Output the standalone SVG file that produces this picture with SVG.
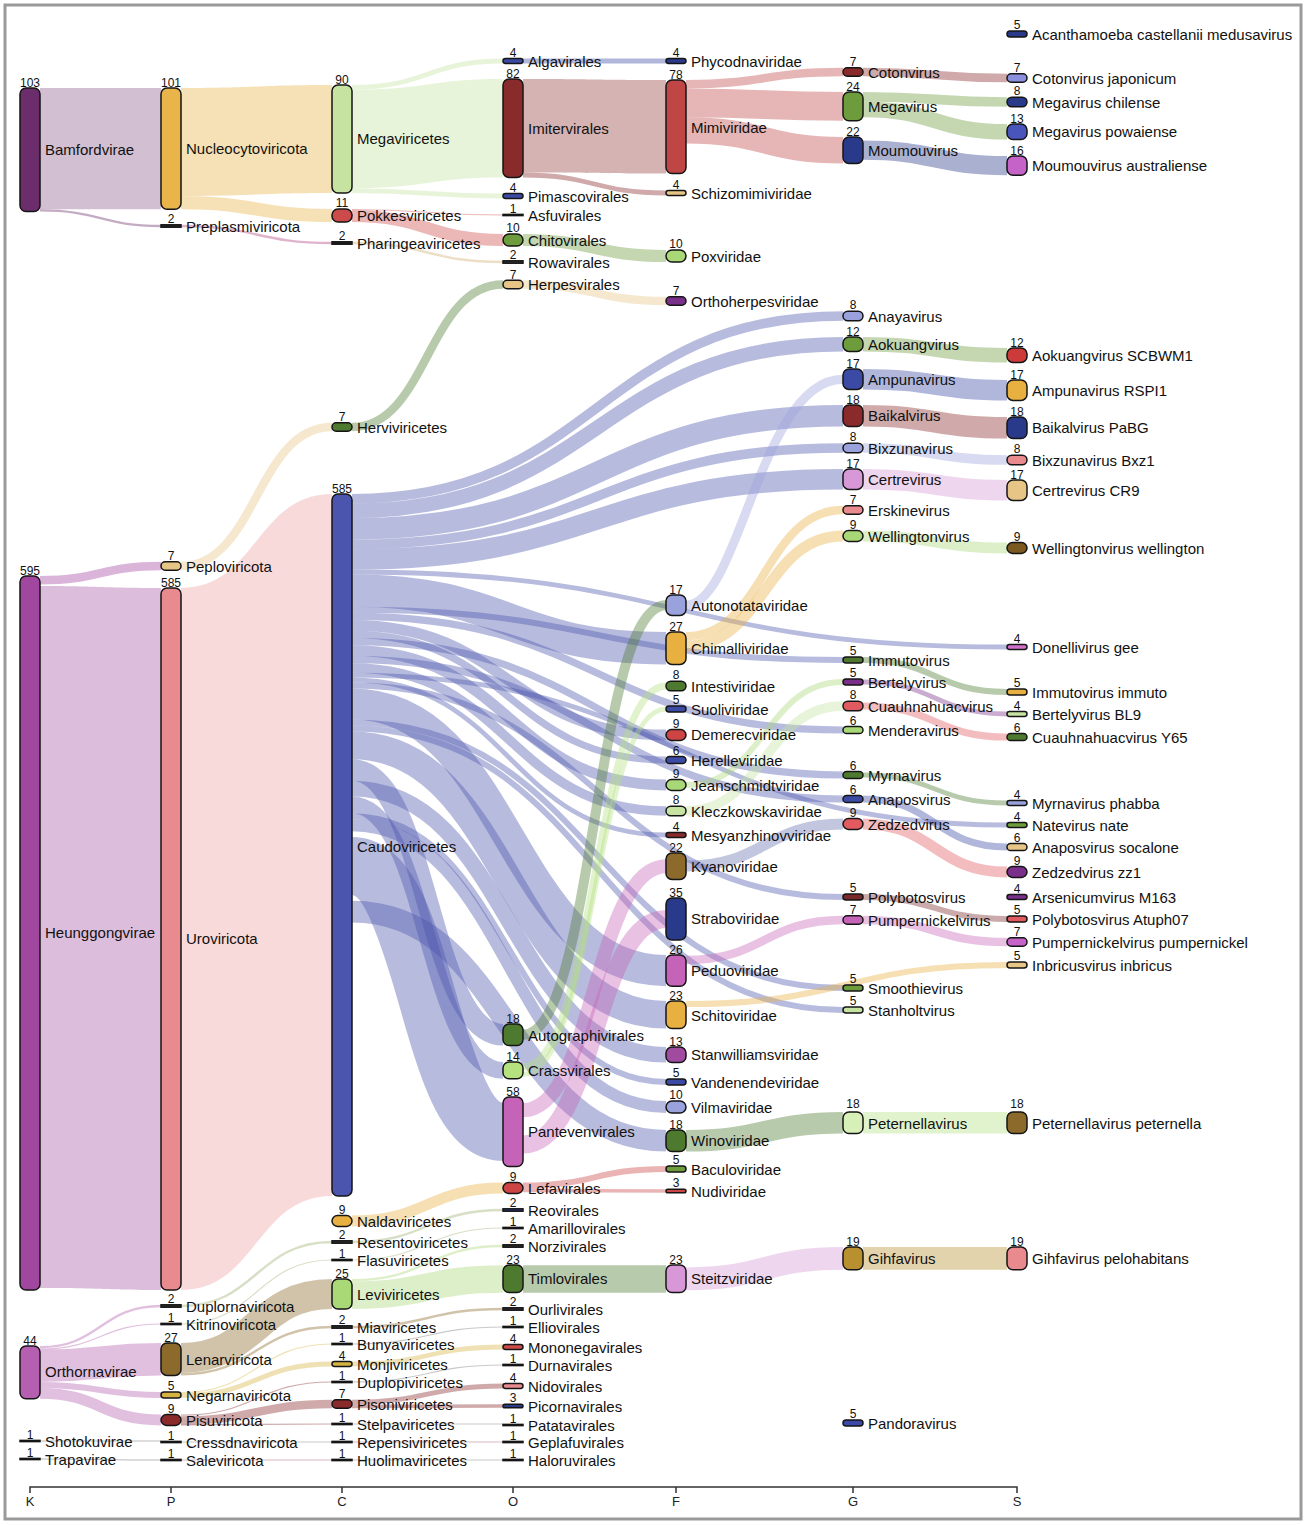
<svg xmlns="http://www.w3.org/2000/svg" width="1306" height="1525" viewBox="0 0 1306 1525">
<style>
.n{stroke:#151515;stroke-width:1.5}
.t{font-family:"Liberation Sans",Arial,sans-serif;font-size:15px;fill:#111}
.v{font-family:"Liberation Sans",Arial,sans-serif;font-size:12px;fill:#111;text-anchor:middle}
#links path{fill:none;stroke-opacity:0.4}
#links path.r{stroke:none;fill-opacity:0.4}
.ax{font-family:"Liberation Sans",Arial,sans-serif;font-size:13px;fill:#222;text-anchor:middle}
</style>
<rect x="0" y="0" width="1306" height="1525" fill="#fff"/>
<rect x="5" y="5" width="1296" height="1514" fill="none" stroke="#9a9a9a" stroke-width="3"/>
<g id="links">
<path class="r" d="M40 88 H161 V209.2 H40 Z" style="fill:#6b2d6b;fill-opacity:0.3"/>
<path d="M40 210.4 C100.5 210.4 100.5 226 161 226" stroke="#6b2d6b" stroke-width="2.4"/>
<path d="M40 580.2 C100.5 580.2 100.5 566 161 566" stroke="#a2479f" stroke-width="8.4"/>
<path class="r" d="M40 586 C100.5 586 100.5 588 161 588 V1290 C100.5 1290 100.5 1288 40 1288 Z" style="fill:#a2479f;fill-opacity:0.36"/>
<path d="M40 1347.2 C100.5 1347.2 100.5 1306 161 1306" stroke="#b45fb0" stroke-width="2.4"/>
<path d="M40 1349 C100.5 1349 100.5 1324 161 1324" stroke="#b45fb0" stroke-width="1.2"/>
<path d="M40 1365.8 C100.5 1365.8 100.5 1359.2 161 1359.2" stroke="#b45fb0" stroke-width="32.4"/>
<path d="M40 1385 C100.5 1385 100.5 1395 161 1395" stroke="#b45fb0" stroke-width="6"/>
<path d="M40 1393.4 C100.5 1393.4 100.5 1420 161 1420" stroke="#b45fb0" stroke-width="10.8"/>
<path d="M40 1441 H161" stroke="#555" stroke-width="1.2"/>
<path d="M40 1459 C100.5 1459 100.5 1460 161 1460" stroke="#555" stroke-width="1.2"/>
<path class="r" d="M181 88 C256.5 88 256.5 85 332 85 V193 C256.5 193 256.5 196 181 196 Z" style="fill:#e9b54a"/>
<path d="M181 202.6 C256.5 202.6 256.5 215.5 332 215.5" stroke="#e9b54a" stroke-width="13.2"/>
<path d="M181 226 C256.5 226 256.5 243 332 243" stroke="#b04080" stroke-width="2.4"/>
<path d="M181 566 C256.5 566 256.5 427 332 427" stroke="#e6c586" stroke-width="8.4"/>
<path class="r" d="M181 588 C256.5 588 256.5 494 332 494 V1196 C256.5 1196 256.5 1290 181 1290 Z" style="fill:#e98b8e;fill-opacity:0.32"/>
<path d="M181 1306 C256.5 1306 256.5 1242 332 1242" stroke="#9ab070" stroke-width="2.4"/>
<path d="M181 1324 C256.5 1324 256.5 1260 332 1260" stroke="#9ab070" stroke-width="1.2"/>
<path d="M181 1358 C256.5 1358 256.5 1294 332 1294" stroke="#8b6a2b" stroke-width="30"/>
<path d="M181 1374.2 C256.5 1374.2 256.5 1327 332 1327" stroke="#8b6a2b" stroke-width="2.4"/>
<path d="M181 1392.6 C256.5 1392.6 256.5 1344 332 1344" stroke="#d6b340" stroke-width="1.2"/>
<path d="M181 1395.6 C256.5 1395.6 256.5 1364 332 1364" stroke="#d6b340" stroke-width="4.8"/>
<path d="M181 1415.2 C256.5 1415.2 256.5 1382 332 1382" stroke="#8a2a2a" stroke-width="1.2"/>
<path d="M181 1420.4 C256.5 1420.4 256.5 1404 332 1404" stroke="#8a2a2a" stroke-width="8.4"/>
<path d="M181 1424.8 C256.5 1424.8 256.5 1424 332 1424" stroke="#8a2a2a" stroke-width="1.2"/>
<path d="M181 1442 H332" stroke="#777" stroke-width="1.2"/>
<path d="M181 1460 H332" stroke="#a05060" stroke-width="1.2"/>
<path d="M352 87.4 C427.5 87.4 427.5 61 503 61" stroke="#c6e3a2" stroke-width="4.8"/>
<path class="r" d="M352 89.8 C427.5 89.8 427.5 79 503 79 V177.4 C427.5 177.4 427.5 188.2 352 188.2 Z" style="fill:#c6e3a2"/>
<path d="M352 190.6 C427.5 190.6 427.5 196 503 196" stroke="#c6e3a2" stroke-width="4.8"/>
<path d="M352 209.5 C427.5 209.5 427.5 215 503 215" stroke="#cc4a4a" stroke-width="1.2"/>
<path d="M352 216.1 C427.5 216.1 427.5 240 503 240" stroke="#cc4a4a" stroke-width="12"/>
<path d="M352 243 C427.5 243 427.5 262 503 262" stroke="#d0b070" stroke-width="2.4"/>
<path d="M352 427 C427.5 427 427.5 284.5 503 284.5" stroke="#4d7a2f" stroke-width="8.4"/>
<path d="M352 1221 C427.5 1221 427.5 1188 503 1188" stroke="#e8b040" stroke-width="10.8"/>
<path d="M352 1242 C427.5 1242 427.5 1210 503 1210" stroke="#9ab070" stroke-width="2.4"/>
<path d="M352 1260 C427.5 1260 427.5 1228 503 1228" stroke="#9ab070" stroke-width="1.2"/>
<path d="M352 1280.2 C427.5 1280.2 427.5 1246 503 1246" stroke="#a9d877" stroke-width="2.4"/>
<path d="M352 1295.2 C427.5 1295.2 427.5 1279 503 1279" stroke="#a9d877" stroke-width="27.6"/>
<path d="M352 1327 C427.5 1327 427.5 1309 503 1309" stroke="#8b6a2b" stroke-width="2.4"/>
<path d="M352 1344 C427.5 1344 427.5 1327 503 1327" stroke="#777" stroke-width="1.2"/>
<path d="M352 1364 C427.5 1364 427.5 1347 503 1347" stroke="#d6b340" stroke-width="4.8"/>
<path d="M352 1382 C427.5 1382 427.5 1365 503 1365" stroke="#777" stroke-width="1.2"/>
<path d="M352 1402.2 C427.5 1402.2 427.5 1386 503 1386" stroke="#8a2a2a" stroke-width="4.8"/>
<path d="M352 1406.4 C427.5 1406.4 427.5 1406 503 1406" stroke="#8a2a2a" stroke-width="3.6"/>
<path d="M352 1424 H503" stroke="#777" stroke-width="1.2"/>
<path d="M352 1442 H503" stroke="#a05060" stroke-width="1.2"/>
<path d="M352 1460 H503" stroke="#777" stroke-width="1.2"/>
<path d="M352 498.8 C597.5 498.8 597.5 316 843 316" stroke="#4b55ad" stroke-width="9.6"/>
<path d="M352 510.8 C597.5 510.8 597.5 344.2 843 344.2" stroke="#4b55ad" stroke-width="14.4"/>
<path d="M352 528.8 C597.5 528.8 597.5 415.8 843 415.8" stroke="#4b55ad" stroke-width="21.6"/>
<path d="M352 544.4 C597.5 544.4 597.5 448 843 448" stroke="#4b55ad" stroke-width="9.6"/>
<path d="M352 559.4 C597.5 559.4 597.5 479.2 843 479.2" stroke="#4b55ad" stroke-width="20.4"/>
<path d="M352 572 C679.5 572 679.5 647 1007 647" stroke="#4b55ad" stroke-width="4.8"/>
<path d="M352 590.6 C509 590.6 509 648.2 666 648.2" stroke="#4b55ad" stroke-width="32.4"/>
<path d="M352 609.8 C597.5 609.8 597.5 660 843 660" stroke="#4b55ad" stroke-width="6"/>
<path d="M352 616.4 C597.5 616.4 597.5 730 843 730" stroke="#4b55ad" stroke-width="7.2"/>
<path d="M352 625.4 C509 625.4 509 735 666 735" stroke="#4b55ad" stroke-width="10.8"/>
<path d="M352 634.4 C509 634.4 509 760 666 760" stroke="#4b55ad" stroke-width="7.2"/>
<path d="M352 641.6 C597.5 641.6 597.5 775 843 775" stroke="#4b55ad" stroke-width="7.2"/>
<path d="M352 650.6 C509 650.6 509 785 666 785" stroke="#4b55ad" stroke-width="10.8"/>
<path d="M352 659.6 C597.5 659.6 597.5 799 843 799" stroke="#4b55ad" stroke-width="7.2"/>
<path d="M352 668 C509 668 509 811 666 811" stroke="#4b55ad" stroke-width="9.6"/>
<path d="M352 675.2 C679.5 675.2 679.5 825 1007 825" stroke="#4b55ad" stroke-width="4.8"/>
<path d="M352 680 C509 680 509 835 666 835" stroke="#4b55ad" stroke-width="4.8"/>
<path d="M352 685.4 C597.5 685.4 597.5 897 843 897" stroke="#4b55ad" stroke-width="6"/>
<path d="M352 704 C509 704 509 970.6 666 970.6" stroke="#4b55ad" stroke-width="31.2"/>
<path d="M352 722.6 C597.5 722.6 597.5 988 843 988" stroke="#4b55ad" stroke-width="6"/>
<path d="M352 728.6 C597.5 728.6 597.5 1010 843 1010" stroke="#4b55ad" stroke-width="6"/>
<path d="M352 745.4 C509 745.4 509 1014.8 666 1014.8" stroke="#4b55ad" stroke-width="27.6"/>
<path d="M352 770 C427.5 770 427.5 1034.8 503 1034.8" stroke="#4b55ad" stroke-width="21.6"/>
<path d="M352 788.6 C509 788.6 509 1054.8 666 1054.8" stroke="#4b55ad" stroke-width="15.6"/>
<path d="M352 804.8 C427.5 804.8 427.5 1070.4 503 1070.4" stroke="#4b55ad" stroke-width="16.8"/>
<path d="M352 816.2 C509 816.2 509 1082 666 1082" stroke="#4b55ad" stroke-width="6"/>
<path d="M352 825.2 C509 825.2 509 1107 666 1107" stroke="#4b55ad" stroke-width="12"/>
<path d="M352 866 C427.5 866 427.5 1131.8 503 1131.8" stroke="#4b55ad" stroke-width="58"/>
<path d="M352 911.6 C509 911.6 509 1140.8 666 1140.8" stroke="#4b55ad" stroke-width="21.6"/>
<path d="M523 61 H666" stroke="#3b4ba5" stroke-width="4.8"/>
<path class="r" d="M523 79 C594.5 79 594.5 80 666 80 V173.6 C594.5 173.6 594.5 172.6 523 172.6 Z" style="fill:#8a2b2b;fill-opacity:0.36"/>
<path d="M523 175 C594.5 175 594.5 193 666 193" stroke="#8a2b2b" stroke-width="4.8"/>
<path d="M523 240 C594.5 240 594.5 256 666 256" stroke="#6c9c3c" stroke-width="12"/>
<path d="M523 284.5 C594.5 284.5 594.5 301 666 301" stroke="#e6c586" stroke-width="8.4"/>
<path d="M523 1034.8 C594.5 1034.8 594.5 605.2 666 605.2" stroke="#4d7a2f" stroke-width="10"/>
<path d="M523 1066.8 C594.5 1066.8 594.5 686 666 686" stroke="#b5e27f" stroke-width="7"/>
<path d="M523 1074.6 C594.5 1074.6 594.5 709 666 709" stroke="#b5e27f" stroke-width="5"/>
<path d="M523 1110.2 C594.5 1110.2 594.5 866.2 666 866.2" stroke="#c563b8" stroke-width="14"/>
<path d="M523 1144.4 C594.5 1144.4 594.5 919 666 919" stroke="#c563b8" stroke-width="18"/>
<path d="M523 1185.6 C594.5 1185.6 594.5 1169 666 1169" stroke="#cc4444" stroke-width="6"/>
<path d="M523 1190.4 C594.5 1190.4 594.5 1191 666 1191" stroke="#cc4444" stroke-width="3.6"/>
<path d="M523 1279 H666" stroke="#4d7a2f" stroke-width="27.6"/>
<path d="M686 84.2 C764.5 84.2 764.5 72 843 72" stroke="#c04545" stroke-width="8.4"/>
<path d="M686 102.8 C764.5 102.8 764.5 106.4 843 106.4" stroke="#c04545" stroke-width="28.8"/>
<path d="M686 130.4 C764.5 130.4 764.5 150.2 843 150.2" stroke="#c04545" stroke-width="26.4"/>
<path d="M686 605.2 C740 605.2 760 379.2 843 379.2" stroke="#9aa2dd" stroke-width="9"/>
<path d="M686 636.2 C764.5 636.2 764.5 510 843 510" stroke="#e8b040" stroke-width="8.4"/>
<path d="M686 645.8 C764.5 645.8 764.5 536 843 536" stroke="#e8b040" stroke-width="10.8"/>
<path d="M686 785 C764.5 785 764.5 682 843 682" stroke="#a9d877" stroke-width="6"/>
<path d="M686 811 C764.5 811 764.5 706 843 706" stroke="#c6e3a2" stroke-width="9.6"/>
<path d="M686 866 C764.5 866 764.5 824 843 824" stroke="#6a70b0" stroke-width="10.8"/>
<path d="M686 960 C764.5 960 764.5 920 843 920" stroke="#c563b8" stroke-width="8.4"/>
<path d="M686 1004 C846.5 1004 846.5 965 1007 965" stroke="#e8b040" stroke-width="6"/>
<path d="M686 1140.8 C764.5 1140.8 764.5 1122.8 843 1122.8" stroke="#4d7a2f" stroke-width="21.6"/>
<path d="M686 1278.8 C764.5 1278.8 764.5 1258.4 843 1258.4" stroke="#d898d8" stroke-width="22.8"/>
<path d="M863 72 C935 72 935 78 1007 78" stroke="#8a2a2a" stroke-width="8.4"/>
<path d="M863 96.8 C935 96.8 935 102 1007 102" stroke="#6c9c3c" stroke-width="9.6"/>
<path d="M863 109.4 C935 109.4 935 131.8 1007 131.8" stroke="#6c9c3c" stroke-width="15.6"/>
<path d="M863 150.2 C935 150.2 935 165.6 1007 165.6" stroke="#2a3a8a" stroke-width="19.2"/>
<path d="M863 344.2 C935 344.2 935 355.2 1007 355.2" stroke="#6c9c3c" stroke-width="14.4"/>
<path d="M863 379.2 C935 379.2 935 390.2 1007 390.2" stroke="#3b4ba5" stroke-width="20.4"/>
<path d="M863 415.8 C935 415.8 935 427.8 1007 427.8" stroke="#8a2a2a" stroke-width="21.6"/>
<path d="M863 448 C935 448 935 460 1007 460" stroke="#9aa2dd" stroke-width="9.6"/>
<path d="M863 479.2 C935 479.2 935 490.2 1007 490.2" stroke="#d898d8" stroke-width="20.4"/>
<path d="M863 536 C935 536 935 548 1007 548" stroke="#a9d877" stroke-width="10.8"/>
<path d="M863 660 C935 660 935 692 1007 692" stroke="#4d7a2f" stroke-width="6"/>
<path d="M863 682 C935 682 935 714 1007 714" stroke="#7a2f8a" stroke-width="4.8"/>
<path d="M863 706 C935 706 935 737 1007 737" stroke="#e05a60" stroke-width="7.2"/>
<path d="M863 775 C935 775 935 803 1007 803" stroke="#4d7a2f" stroke-width="4.8"/>
<path d="M863 799 C935 799 935 847 1007 847" stroke="#3b4ba5" stroke-width="7.2"/>
<path d="M863 824 C935 824 935 872 1007 872" stroke="#e05a60" stroke-width="10.8"/>
<path d="M863 897 C935 897 935 919 1007 919" stroke="#7a2a2a" stroke-width="6"/>
<path d="M863 920 C935 920 935 942 1007 942" stroke="#c563b8" stroke-width="8.4"/>
<path d="M863 1122.8 H1007" stroke="#b5e27f" stroke-width="21.6"/>
<path d="M863 1258.4 H1007" stroke="#b89030" stroke-width="22.8"/>
</g>
<g id="nodes">
<g id="n-bamfordvirae"><rect class="n" x="20" y="88" width="20" height="123.6" rx="6" fill="#6b2d6b"/><text class="v" x="30" y="86.5">103</text><text class="t" x="45" y="155">Bamfordvirae</text></g>
<g id="n-heunggongvirae"><rect class="n" x="20" y="576" width="20" height="714" rx="6" fill="#a2479f"/><text class="v" x="30" y="574.5">595</text><text class="t" x="45" y="938">Heunggongvirae</text></g>
<g id="n-orthornavirae"><rect class="n" x="20" y="1346" width="20" height="52.8" rx="6" fill="#b45fb0"/><text class="v" x="30" y="1344.5">44</text><text class="t" x="45" y="1377">Orthornavirae</text></g>
<g id="n-shotokuvirae"><rect class="n" x="20" y="1440.4" width="20" height="1.2" fill="#222"/><text class="v" x="30" y="1438.5">1</text><text class="t" x="45" y="1446.5">Shotokuvirae</text></g>
<g id="n-trapavirae"><rect class="n" x="20" y="1458.4" width="20" height="1.2" fill="#222"/><text class="v" x="30" y="1456.5">1</text><text class="t" x="45" y="1464.5">Trapavirae</text></g>

<g id="n-nucleocytoviricota"><rect class="n" x="161" y="88" width="20" height="121.2" rx="6" fill="#e9b54a"/><text class="v" x="171" y="86.5">101</text><text class="t" x="186" y="153.6">Nucleocytoviricota</text></g>
<g id="n-preplasmiviricota"><rect class="n" x="161" y="224.8" width="20" height="2.4" fill="#2a2a2a"/><text class="v" x="171" y="222.5">2</text><text class="t" x="186" y="231.5">Preplasmiviricota</text></g>
<g id="n-peploviricota"><rect class="n" x="161" y="561.8" width="20" height="8.4" rx="4.2" fill="#e6c586"/><text class="v" x="171" y="560">7</text><text class="t" x="186" y="571.5">Peploviricota</text></g>
<g id="n-uroviricota"><rect class="n" x="161" y="588" width="20" height="702" rx="6" fill="#e98b8e"/><text class="v" x="171" y="586.5">585</text><text class="t" x="186" y="944">Uroviricota</text></g>
<g id="n-duplornaviricota"><rect class="n" x="161" y="1304.8" width="20" height="2.4" fill="#2e3a22"/><text class="v" x="171" y="1302.5">2</text><text class="t" x="186" y="1311.5">Duplornaviricota</text></g>
<g id="n-kitrinoviricota"><rect class="n" x="161" y="1323.4" width="20" height="1.2" fill="#333"/><text class="v" x="171" y="1321.5">1</text><text class="t" x="186" y="1329.5">Kitrinoviricota</text></g>
<g id="n-lenarviricota"><rect class="n" x="161" y="1343" width="20" height="32.4" rx="6" fill="#8b6a2b"/><text class="v" x="171" y="1341.5">27</text><text class="t" x="186" y="1364.5">Lenarviricota</text></g>
<g id="n-negarnaviricota"><rect class="n" x="161" y="1392" width="20" height="6" rx="3" fill="#d6b340"/><text class="v" x="171" y="1390">5</text><text class="t" x="186" y="1400.5">Negarnaviricota</text></g>
<g id="n-pisuviricota"><rect class="n" x="161" y="1414.6" width="20" height="10.8" rx="5.4" fill="#8a2a2a"/><text class="v" x="171" y="1412.8">9</text><text class="t" x="186" y="1425.5">Pisuviricota</text></g>
<g id="n-cressdnaviricota"><rect class="n" x="161" y="1441.4" width="20" height="1.2" fill="#333"/><text class="v" x="171" y="1439.5">1</text><text class="t" x="186" y="1447.5">Cressdnaviricota</text></g>
<g id="n-saleviricota"><rect class="n" x="161" y="1459.4" width="20" height="1.2" fill="#6a2a2a"/><text class="v" x="171" y="1457.5">1</text><text class="t" x="186" y="1465.5">Saleviricota</text></g>

<g id="n-megaviricetes"><rect class="n" x="332" y="85" width="20" height="108" rx="6" fill="#c6e3a2"/><text class="v" x="342" y="83.5">90</text><text class="t" x="357" y="144">Megaviricetes</text></g>
<g id="n-pokkesviricetes"><rect class="n" x="332" y="208.9" width="20" height="13.2" rx="6" fill="#cc4a4a"/><text class="v" x="342" y="207">11</text><text class="t" x="357" y="220.5">Pokkesviricetes</text></g>
<g id="n-pharingeaviricetes"><rect class="n" x="332" y="241.8" width="20" height="2.4" fill="#222"/><text class="v" x="342" y="239.5">2</text><text class="t" x="357" y="248.5">Pharingeaviricetes</text></g>
<g id="n-herviviricetes"><rect class="n" x="332" y="422.8" width="20" height="8.4" rx="4.2" fill="#4d7a2f"/><text class="v" x="342" y="421">7</text><text class="t" x="357" y="432.5">Herviviricetes</text></g>
<g id="n-caudoviricetes"><rect class="n" x="332" y="494" width="20" height="702" rx="6" fill="#4b55ad"/><text class="v" x="342" y="492.5">585</text><text class="t" x="357" y="852">Caudoviricetes</text></g>
<g id="n-naldaviricetes"><rect class="n" x="332" y="1215.6" width="20" height="10.8" rx="5.4" fill="#e8b040"/><text class="v" x="342" y="1213.8">9</text><text class="t" x="357" y="1226.5">Naldaviricetes</text></g>
<g id="n-resentoviricetes"><rect class="n" x="332" y="1240.8" width="20" height="2.4" fill="#333"/><text class="v" x="342" y="1238.5">2</text><text class="t" x="357" y="1247.5">Resentoviricetes</text></g>
<g id="n-flasuviricetes"><rect class="n" x="332" y="1259.4" width="20" height="1.2" fill="#333"/><text class="v" x="342" y="1257.5">1</text><text class="t" x="357" y="1265.5">Flasuviricetes</text></g>
<g id="n-leviviricetes"><rect class="n" x="332" y="1279" width="20" height="30" rx="6" fill="#a9d877"/><text class="v" x="342" y="1277.5">25</text><text class="t" x="357" y="1299.5">Leviviricetes</text></g>
<g id="n-miaviricetes"><rect class="n" x="332" y="1325.8" width="20" height="2.4" fill="#333"/><text class="v" x="342" y="1323.5">2</text><text class="t" x="357" y="1332.5">Miaviricetes</text></g>
<g id="n-bunyaviricetes"><rect class="n" x="332" y="1343.4" width="20" height="1.2" fill="#333"/><text class="v" x="342" y="1341.5">1</text><text class="t" x="357" y="1349.5">Bunyaviricetes</text></g>
<g id="n-monjiviricetes"><rect class="n" x="332" y="1361.6" width="20" height="4.8" rx="2.4" fill="#d6b340"/><text class="v" x="342" y="1359.8">4</text><text class="t" x="357" y="1369.5">Monjiviricetes</text></g>
<g id="n-duplopiviricetes"><rect class="n" x="332" y="1381.4" width="20" height="1.2" fill="#333"/><text class="v" x="342" y="1379.5">1</text><text class="t" x="357" y="1387.5">Duplopiviricetes</text></g>
<g id="n-pisoniviricetes"><rect class="n" x="332" y="1399.8" width="20" height="8.4" rx="4.2" fill="#8a2a2a"/><text class="v" x="342" y="1398">7</text><text class="t" x="357" y="1409.5">Pisoniviricetes</text></g>
<g id="n-stelpaviricetes"><rect class="n" x="332" y="1423.4" width="20" height="1.2" fill="#333"/><text class="v" x="342" y="1421.5">1</text><text class="t" x="357" y="1429.5">Stelpaviricetes</text></g>
<g id="n-repensiviricetes"><rect class="n" x="332" y="1441.4" width="20" height="1.2" fill="#6a2a2a"/><text class="v" x="342" y="1439.5">1</text><text class="t" x="357" y="1447.5">Repensiviricetes</text></g>
<g id="n-huolimaviricetes"><rect class="n" x="332" y="1459.4" width="20" height="1.2" fill="#333"/><text class="v" x="342" y="1457.5">1</text><text class="t" x="357" y="1465.5">Huolimaviricetes</text></g>

<g id="n-algavirales"><rect class="n" x="503" y="58.6" width="20" height="4.8" rx="2.4" fill="#3b4ba5"/><text class="v" x="513" y="56.8">4</text><text class="t" x="528" y="66.5">Algavirales</text></g>
<g id="n-imitervirales"><rect class="n" x="503" y="79" width="20" height="98.4" rx="6" fill="#8a2b2b"/><text class="v" x="513" y="77.5">82</text><text class="t" x="528" y="133.5">Imitervirales</text></g>
<g id="n-pimascovirales"><rect class="n" x="503" y="193.6" width="20" height="4.8" rx="2.4" fill="#3b4ba5"/><text class="v" x="513" y="191.8">4</text><text class="t" x="528" y="201.5">Pimascovirales</text></g>
<g id="n-asfuvirales"><rect class="n" x="503" y="214.4" width="20" height="1.2" fill="#333"/><text class="v" x="513" y="212.5">1</text><text class="t" x="528" y="220.5">Asfuvirales</text></g>
<g id="n-chitovirales"><rect class="n" x="503" y="234" width="20" height="12" rx="6" fill="#6c9c3c"/><text class="v" x="513" y="232.3">10</text><text class="t" x="528" y="245.5">Chitovirales</text></g>
<g id="n-rowavirales"><rect class="n" x="503" y="260.8" width="20" height="2.4" fill="#333"/><text class="v" x="513" y="258.5">2</text><text class="t" x="528" y="267.5">Rowavirales</text></g>
<g id="n-herpesvirales"><rect class="n" x="503" y="280.3" width="20" height="8.4" rx="4.2" fill="#e6c586"/><text class="v" x="513" y="278.5">7</text><text class="t" x="528" y="290">Herpesvirales</text></g>
<g id="n-autographivirales"><rect class="n" x="503" y="1024" width="20" height="21.6" rx="6" fill="#4d7a2f"/><text class="v" x="513" y="1022.5">18</text><text class="t" x="528" y="1040.5">Autographivirales</text></g>
<g id="n-crassvirales"><rect class="n" x="503" y="1062" width="20" height="16.8" rx="6" fill="#b5e27f"/><text class="v" x="513" y="1060.5">14</text><text class="t" x="528" y="1075.5">Crassvirales</text></g>
<g id="n-pantevenvirales"><rect class="n" x="503" y="1097" width="20" height="69.6" rx="6" fill="#c563b8"/><text class="v" x="513" y="1095.5">58</text><text class="t" x="528" y="1137">Pantevenvirales</text></g>
<g id="n-lefavirales"><rect class="n" x="503" y="1182.6" width="20" height="10.8" rx="5.4" fill="#cc4444"/><text class="v" x="513" y="1180.8">9</text><text class="t" x="528" y="1193.5">Lefavirales</text></g>
<g id="n-reovirales"><rect class="n" x="503" y="1208.8" width="20" height="2.4" fill="#2a3a7a"/><text class="v" x="513" y="1206.5">2</text><text class="t" x="528" y="1215.5">Reovirales</text></g>
<g id="n-amarillovirales"><rect class="n" x="503" y="1227.4" width="20" height="1.2" fill="#333"/><text class="v" x="513" y="1225.5">1</text><text class="t" x="528" y="1233.5">Amarillovirales</text></g>
<g id="n-norzivirales"><rect class="n" x="503" y="1244.8" width="20" height="2.4" fill="#333"/><text class="v" x="513" y="1242.5">2</text><text class="t" x="528" y="1251.5">Norzivirales</text></g>
<g id="n-timlovirales"><rect class="n" x="503" y="1265" width="20" height="27.6" rx="6" fill="#4d7a2f"/><text class="v" x="513" y="1263.5">23</text><text class="t" x="528" y="1284">Timlovirales</text></g>
<g id="n-ourlivirales"><rect class="n" x="503" y="1307.8" width="20" height="2.4" fill="#3a2a3a"/><text class="v" x="513" y="1305.5">2</text><text class="t" x="528" y="1314.5">Ourlivirales</text></g>
<g id="n-elliovirales"><rect class="n" x="503" y="1326.4" width="20" height="1.2" fill="#333"/><text class="v" x="513" y="1324.5">1</text><text class="t" x="528" y="1332.5">Elliovirales</text></g>
<g id="n-mononegavirales"><rect class="n" x="503" y="1344.6" width="20" height="4.8" rx="2.4" fill="#cc4a4a"/><text class="v" x="513" y="1342.8">4</text><text class="t" x="528" y="1352.5">Mononegavirales</text></g>
<g id="n-durnavirales"><rect class="n" x="503" y="1364.4" width="20" height="1.2" fill="#333"/><text class="v" x="513" y="1362.5">1</text><text class="t" x="528" y="1370.5">Durnavirales</text></g>
<g id="n-nidovirales"><rect class="n" x="503" y="1383.6" width="20" height="4.8" rx="2.4" fill="#e88a8e"/><text class="v" x="513" y="1381.8">4</text><text class="t" x="528" y="1391.5">Nidovirales</text></g>
<g id="n-picornavirales"><rect class="n" x="503" y="1404.2" width="20" height="3.6" rx="1.8" fill="#2a3a8a"/><text class="v" x="513" y="1402.3">3</text><text class="t" x="528" y="1411.5">Picornavirales</text></g>
<g id="n-patatavirales"><rect class="n" x="503" y="1424.4" width="20" height="1.2" fill="#333"/><text class="v" x="513" y="1422.5">1</text><text class="t" x="528" y="1430.5">Patatavirales</text></g>
<g id="n-geplafuvirales"><rect class="n" x="503" y="1441.4" width="20" height="1.2" fill="#333"/><text class="v" x="513" y="1439.5">1</text><text class="t" x="528" y="1447.5">Geplafuvirales</text></g>
<g id="n-haloruvirales"><rect class="n" x="503" y="1459.4" width="20" height="1.2" fill="#333"/><text class="v" x="513" y="1457.5">1</text><text class="t" x="528" y="1465.5">Haloruvirales</text></g>

<g id="n-phycodnaviridae"><rect class="n" x="666" y="58.6" width="20" height="4.8" rx="2.4" fill="#2a3a8a"/><text class="v" x="676" y="56.8">4</text><text class="t" x="691" y="66.5">Phycodnaviridae</text></g>
<g id="n-mimiviridae"><rect class="n" x="666" y="80" width="20" height="93.6" rx="6" fill="#c04545"/><text class="v" x="676" y="78.5">78</text><text class="t" x="691" y="132.5">Mimiviridae</text></g>
<g id="n-schizomimiviridae"><rect class="n" x="666" y="190.6" width="20" height="4.8" rx="2.4" fill="#e6c586"/><text class="v" x="676" y="188.8">4</text><text class="t" x="691" y="198.5">Schizomimiviridae</text></g>
<g id="n-poxviridae"><rect class="n" x="666" y="250" width="20" height="12" rx="6" fill="#a9d877"/><text class="v" x="676" y="248.3">10</text><text class="t" x="691" y="261.5">Poxviridae</text></g>
<g id="n-orthoherpesviridae"><rect class="n" x="666" y="296.8" width="20" height="8.4" rx="4.2" fill="#7a2f8a"/><text class="v" x="676" y="295">7</text><text class="t" x="691" y="306.5">Orthoherpesviridae</text></g>
<g id="n-autonotataviridae"><rect class="n" x="666" y="595" width="20" height="20.4" rx="6" fill="#9aa2dd"/><text class="v" x="676" y="593.5">17</text><text class="t" x="691" y="610.5">Autonotataviridae</text></g>
<g id="n-chimalliviridae"><rect class="n" x="666" y="632" width="20" height="32.4" rx="6" fill="#e8b040"/><text class="v" x="676" y="630.5">27</text><text class="t" x="691" y="653.5">Chimalliviridae</text></g>
<g id="n-intestiviridae"><rect class="n" x="666" y="681.2" width="20" height="9.6" rx="4.8" fill="#4d7a2f"/><text class="v" x="676" y="679.4">8</text><text class="t" x="691" y="691.5">Intestiviridae</text></g>
<g id="n-suoliviridae"><rect class="n" x="666" y="706" width="20" height="6" rx="3" fill="#3b4ba5"/><text class="v" x="676" y="704.2">5</text><text class="t" x="691" y="714.5">Suoliviridae</text></g>
<g id="n-demerecviridae"><rect class="n" x="666" y="729.6" width="20" height="10.8" rx="5.4" fill="#cc4444"/><text class="v" x="676" y="727.8">9</text><text class="t" x="691" y="740">Demerecviridae</text></g>
<g id="n-herelleviridae"><rect class="n" x="666" y="756.4" width="20" height="7.2" rx="3.6" fill="#3b4ba5"/><text class="v" x="676" y="754.6">6</text><text class="t" x="691" y="765.5">Herelleviridae</text></g>
<g id="n-jeanschmidtviridae"><rect class="n" x="666" y="779.6" width="20" height="10.8" rx="5.4" fill="#a9d877"/><text class="v" x="676" y="777.8">9</text><text class="t" x="691" y="790.5">Jeanschmidtviridae</text></g>
<g id="n-kleczkowskaviridae"><rect class="n" x="666" y="806.2" width="20" height="9.6" rx="4.8" fill="#c6e3a2"/><text class="v" x="676" y="804.4">8</text><text class="t" x="691" y="816.5">Kleczkowskaviridae</text></g>
<g id="n-mesyanzhinovviridae"><rect class="n" x="666" y="832.6" width="20" height="4.8" rx="2.4" fill="#8a2a2a"/><text class="v" x="676" y="830.8">4</text><text class="t" x="691" y="840.5">Mesyanzhinovviridae</text></g>
<g id="n-kyanoviridae"><rect class="n" x="666" y="853" width="20" height="26.4" rx="6" fill="#8b6a2b"/><text class="v" x="676" y="851.5">22</text><text class="t" x="691" y="871.5">Kyanoviridae</text></g>
<g id="n-straboviridae"><rect class="n" x="666" y="898" width="20" height="42" rx="6" fill="#2a3a8a"/><text class="v" x="676" y="896.5">35</text><text class="t" x="691" y="924">Straboviridae</text></g>
<g id="n-peduoviridae"><rect class="n" x="666" y="955" width="20" height="31.2" rx="6" fill="#c563b8"/><text class="v" x="676" y="953.5">26</text><text class="t" x="691" y="976">Peduoviridae</text></g>
<g id="n-schitoviridae"><rect class="n" x="666" y="1001" width="20" height="27.6" rx="6" fill="#e8b040"/><text class="v" x="676" y="999.5">23</text><text class="t" x="691" y="1020.5">Schitoviridae</text></g>
<g id="n-stanwilliamsviridae"><rect class="n" x="666" y="1047" width="20" height="15.6" rx="6" fill="#a04aa0"/><text class="v" x="676" y="1045.5">13</text><text class="t" x="691" y="1060">Stanwilliamsviridae</text></g>
<g id="n-vandenendeviridae"><rect class="n" x="666" y="1079" width="20" height="6" rx="3" fill="#3b4ba5"/><text class="v" x="676" y="1077.2">5</text><text class="t" x="691" y="1087.5">Vandenendeviridae</text></g>
<g id="n-vilmaviridae"><rect class="n" x="666" y="1101" width="20" height="12" rx="6" fill="#9aa2dd"/><text class="v" x="676" y="1099.3">10</text><text class="t" x="691" y="1112.5">Vilmaviridae</text></g>
<g id="n-winoviridae"><rect class="n" x="666" y="1130" width="20" height="21.6" rx="6" fill="#4d7a2f"/><text class="v" x="676" y="1128.5">18</text><text class="t" x="691" y="1146">Winoviridae</text></g>
<g id="n-baculoviridae"><rect class="n" x="666" y="1166" width="20" height="6" rx="3" fill="#6c9c3c"/><text class="v" x="676" y="1164.2">5</text><text class="t" x="691" y="1174.5">Baculoviridae</text></g>
<g id="n-nudiviridae"><rect class="n" x="666" y="1189.2" width="20" height="3.6" rx="1.8" fill="#cc4444"/><text class="v" x="676" y="1187.3">3</text><text class="t" x="691" y="1196.5">Nudiviridae</text></g>
<g id="n-steitzviridae"><rect class="n" x="666" y="1265" width="20" height="27.6" rx="6" fill="#d898d8"/><text class="v" x="676" y="1263.5">23</text><text class="t" x="691" y="1284">Steitzviridae</text></g>

<g id="n-cotonvirus"><rect class="n" x="843" y="67.8" width="20" height="8.4" rx="4.2" fill="#8a2a2a"/><text class="v" x="853" y="66">7</text><text class="t" x="868" y="77.5">Cotonvirus</text></g>
<g id="n-megavirus"><rect class="n" x="843" y="92" width="20" height="28.8" rx="6" fill="#6c9c3c"/><text class="v" x="853" y="90.5">24</text><text class="t" x="868" y="111.5">Megavirus</text></g>
<g id="n-moumouvirus"><rect class="n" x="843" y="137" width="20" height="26.4" rx="6" fill="#2a3a8a"/><text class="v" x="853" y="135.5">22</text><text class="t" x="868" y="155.5">Moumouvirus</text></g>
<g id="n-anayavirus"><rect class="n" x="843" y="311.2" width="20" height="9.6" rx="4.8" fill="#9aa2dd"/><text class="v" x="853" y="309.4">8</text><text class="t" x="868" y="321.5">Anayavirus</text></g>
<g id="n-aokuangvirus"><rect class="n" x="843" y="337" width="20" height="14.4" rx="6" fill="#6c9c3c"/><text class="v" x="853" y="335.5">12</text><text class="t" x="868" y="349.5">Aokuangvirus</text></g>
<g id="n-ampunavirus"><rect class="n" x="843" y="369" width="20" height="20.4" rx="6" fill="#3b4ba5"/><text class="v" x="853" y="367.5">17</text><text class="t" x="868" y="384.5">Ampunavirus</text></g>
<g id="n-baikalvirus"><rect class="n" x="843" y="405" width="20" height="21.6" rx="6" fill="#8a2a2a"/><text class="v" x="853" y="403.5">18</text><text class="t" x="868" y="420.5">Baikalvirus</text></g>
<g id="n-bixzunavirus"><rect class="n" x="843" y="443.2" width="20" height="9.6" rx="4.8" fill="#9aa2dd"/><text class="v" x="853" y="441.4">8</text><text class="t" x="868" y="453.5">Bixzunavirus</text></g>
<g id="n-certrevirus"><rect class="n" x="843" y="469" width="20" height="20.4" rx="6" fill="#d898d8"/><text class="v" x="853" y="467.5">17</text><text class="t" x="868" y="484.5">Certrevirus</text></g>
<g id="n-erskinevirus"><rect class="n" x="843" y="505.8" width="20" height="8.4" rx="4.2" fill="#e88a8e"/><text class="v" x="853" y="504">7</text><text class="t" x="868" y="515.5">Erskinevirus</text></g>
<g id="n-wellingtonvirus"><rect class="n" x="843" y="530.6" width="20" height="10.8" rx="5.4" fill="#a9d877"/><text class="v" x="853" y="528.8">9</text><text class="t" x="868" y="541.5">Wellingtonvirus</text></g>
<g id="n-immutovirus"><rect class="n" x="843" y="657" width="20" height="6" rx="3" fill="#4d7a2f"/><text class="v" x="853" y="655.2">5</text><text class="t" x="868" y="665.5">Immutovirus</text></g>
<g id="n-bertelyvirus"><rect class="n" x="843" y="679" width="20" height="6" rx="3" fill="#7a2f8a"/><text class="v" x="853" y="677.2">5</text><text class="t" x="868" y="687.5">Bertelyvirus</text></g>
<g id="n-cuauhnahuacvirus"><rect class="n" x="843" y="701.2" width="20" height="9.6" rx="4.8" fill="#e05a60"/><text class="v" x="853" y="699.4">8</text><text class="t" x="868" y="711.5">Cuauhnahuacvirus</text></g>
<g id="n-menderavirus"><rect class="n" x="843" y="726.4" width="20" height="7.2" rx="3.6" fill="#a9d877"/><text class="v" x="853" y="724.6">6</text><text class="t" x="868" y="735.5">Menderavirus</text></g>
<g id="n-myrnavirus"><rect class="n" x="843" y="771.4" width="20" height="7.2" rx="3.6" fill="#4d7a2f"/><text class="v" x="853" y="769.6">6</text><text class="t" x="868" y="780.5">Myrnavirus</text></g>
<g id="n-anaposvirus"><rect class="n" x="843" y="795.4" width="20" height="7.2" rx="3.6" fill="#3b4ba5"/><text class="v" x="853" y="793.6">6</text><text class="t" x="868" y="804.5">Anaposvirus</text></g>
<g id="n-zedzedvirus"><rect class="n" x="843" y="818.6" width="20" height="10.8" rx="5.4" fill="#e05a60"/><text class="v" x="853" y="816.8">9</text><text class="t" x="868" y="829.5">Zedzedvirus</text></g>
<g id="n-polybotosvirus"><rect class="n" x="843" y="894" width="20" height="6" rx="3" fill="#7a2a2a"/><text class="v" x="853" y="892.2">5</text><text class="t" x="868" y="902.5">Polybotosvirus</text></g>
<g id="n-pumpernickelvirus"><rect class="n" x="843" y="915.8" width="20" height="8.4" rx="4.2" fill="#c563b8"/><text class="v" x="853" y="914">7</text><text class="t" x="868" y="925.5">Pumpernickelvirus</text></g>
<g id="n-smoothievirus"><rect class="n" x="843" y="985" width="20" height="6" rx="3" fill="#6c9c3c"/><text class="v" x="853" y="983.2">5</text><text class="t" x="868" y="993.5">Smoothievirus</text></g>
<g id="n-stanholtvirus"><rect class="n" x="843" y="1007" width="20" height="6" rx="3" fill="#c6e3a2"/><text class="v" x="853" y="1005.2">5</text><text class="t" x="868" y="1015.5">Stanholtvirus</text></g>
<g id="n-peternellavirus"><rect class="n" x="843" y="1112" width="20" height="21.6" rx="6" fill="#d6f0b8"/><text class="v" x="853" y="1108">18</text><text class="t" x="868" y="1128.5">Peternellavirus</text></g>
<g id="n-gihfavirus"><rect class="n" x="843" y="1247" width="20" height="22.8" rx="6" fill="#b89030"/><text class="v" x="853" y="1245.5">19</text><text class="t" x="868" y="1263.5">Gihfavirus</text></g>
<g id="n-pandoravirus"><rect class="n" x="843" y="1420" width="20" height="6" rx="3" fill="#3b4ba5"/><text class="v" x="853" y="1418.2">5</text><text class="t" x="868" y="1428.5">Pandoravirus</text></g>

<g id="n-acanthamoeba"><rect class="n" x="1007" y="31" width="20" height="6" rx="3" fill="#2a3a8a"/><text class="v" x="1017" y="29.2">5</text><text class="t" x="1032" y="39.5">Acanthamoeba castellanii medusavirus</text></g>
<g id="n-cotonvirus-japonicum"><rect class="n" x="1007" y="73.8" width="20" height="8.4" rx="4.2" fill="#8a90dd"/><text class="v" x="1017" y="72">7</text><text class="t" x="1032" y="83.5">Cotonvirus japonicum</text></g>
<g id="n-megavirus-chilense"><rect class="n" x="1007" y="97.2" width="20" height="9.6" rx="4.8" fill="#2a3a8a"/><text class="v" x="1017" y="95.4">8</text><text class="t" x="1032" y="107.5">Megavirus chilense</text></g>
<g id="n-megavirus-powaiense"><rect class="n" x="1007" y="124" width="20" height="15.6" rx="6" fill="#4a55bb"/><text class="v" x="1017" y="122.5">13</text><text class="t" x="1032" y="137">Megavirus powaiense</text></g>
<g id="n-moumouvirus-australiense"><rect class="n" x="1007" y="156" width="20" height="19.2" rx="6" fill="#c563c8"/><text class="v" x="1017" y="154.5">16</text><text class="t" x="1032" y="171">Moumouvirus australiense</text></g>
<g id="n-aokuangvirus-scbwm1"><rect class="n" x="1007" y="348" width="20" height="14.4" rx="6" fill="#cc3a3a"/><text class="v" x="1017" y="346.5">12</text><text class="t" x="1032" y="360.5">Aokuangvirus SCBWM1</text></g>
<g id="n-ampunavirus-rspi1"><rect class="n" x="1007" y="380" width="20" height="20.4" rx="6" fill="#e8b040"/><text class="v" x="1017" y="378.5">17</text><text class="t" x="1032" y="395.5">Ampunavirus RSPI1</text></g>
<g id="n-baikalvirus-pabg"><rect class="n" x="1007" y="417" width="20" height="21.6" rx="6" fill="#2a3a8a"/><text class="v" x="1017" y="415.5">18</text><text class="t" x="1032" y="433">Baikalvirus PaBG</text></g>
<g id="n-bixzunavirus-bxz1"><rect class="n" x="1007" y="455.2" width="20" height="9.6" rx="4.8" fill="#e88a8e"/><text class="v" x="1017" y="453.4">8</text><text class="t" x="1032" y="465.5">Bixzunavirus Bxz1</text></g>
<g id="n-certrevirus-cr9"><rect class="n" x="1007" y="480" width="20" height="20.4" rx="6" fill="#e6c586"/><text class="v" x="1017" y="478.5">17</text><text class="t" x="1032" y="495.5">Certrevirus CR9</text></g>
<g id="n-wellingtonvirus-wellington"><rect class="n" x="1007" y="542.6" width="20" height="10.8" rx="5.4" fill="#7a5a20"/><text class="v" x="1017" y="540.8">9</text><text class="t" x="1032" y="553.5">Wellingtonvirus wellington</text></g>
<g id="n-donellivirus-gee"><rect class="n" x="1007" y="644.6" width="20" height="4.8" rx="2.4" fill="#d070c8"/><text class="v" x="1017" y="642.8">4</text><text class="t" x="1032" y="652.5">Donellivirus gee</text></g>
<g id="n-immutovirus-immuto"><rect class="n" x="1007" y="689" width="20" height="6" rx="3" fill="#e8b040"/><text class="v" x="1017" y="687.2">5</text><text class="t" x="1032" y="697.5">Immutovirus immuto</text></g>
<g id="n-bertelyvirus-bl9"><rect class="n" x="1007" y="711.6" width="20" height="4.8" rx="2.4" fill="#c6e3a2"/><text class="v" x="1017" y="709.8">4</text><text class="t" x="1032" y="719.5">Bertelyvirus BL9</text></g>
<g id="n-cuauhnahuacvirus-y65"><rect class="n" x="1007" y="733.4" width="20" height="7.2" rx="3.6" fill="#4d7a2f"/><text class="v" x="1017" y="731.6">6</text><text class="t" x="1032" y="742.5">Cuauhnahuacvirus Y65</text></g>
<g id="n-myrnavirus-phabba"><rect class="n" x="1007" y="800.6" width="20" height="4.8" rx="2.4" fill="#9aa2dd"/><text class="v" x="1017" y="798.8">4</text><text class="t" x="1032" y="808.5">Myrnavirus phabba</text></g>
<g id="n-natevirus-nate"><rect class="n" x="1007" y="822.6" width="20" height="4.8" rx="2.4" fill="#6c9c3c"/><text class="v" x="1017" y="820.8">4</text><text class="t" x="1032" y="830.5">Natevirus nate</text></g>
<g id="n-anaposvirus-socalone"><rect class="n" x="1007" y="843.4" width="20" height="7.2" rx="3.6" fill="#e6c586"/><text class="v" x="1017" y="841.6">6</text><text class="t" x="1032" y="852.5">Anaposvirus socalone</text></g>
<g id="n-zedzedvirus-zz1"><rect class="n" x="1007" y="866.6" width="20" height="10.8" rx="5.4" fill="#7a2f8a"/><text class="v" x="1017" y="864.8">9</text><text class="t" x="1032" y="877.5">Zedzedvirus zz1</text></g>
<g id="n-arsenicumvirus-m163"><rect class="n" x="1007" y="894.6" width="20" height="4.8" rx="2.4" fill="#7a2f8a"/><text class="v" x="1017" y="892.8">4</text><text class="t" x="1032" y="902.5">Arsenicumvirus M163</text></g>
<g id="n-polybotosvirus-atuph07"><rect class="n" x="1007" y="916" width="20" height="6" rx="3" fill="#e05a60"/><text class="v" x="1017" y="914.2">5</text><text class="t" x="1032" y="924.5">Polybotosvirus Atuph07</text></g>
<g id="n-pumpernickelvirus-pumpernickel"><rect class="n" x="1007" y="937.8" width="20" height="8.4" rx="4.2" fill="#c563c8"/><text class="v" x="1017" y="936">7</text><text class="t" x="1032" y="947.5">Pumpernickelvirus pumpernickel</text></g>
<g id="n-inbricusvirus-inbricus"><rect class="n" x="1007" y="962" width="20" height="6" rx="3" fill="#e6c586"/><text class="v" x="1017" y="960.2">5</text><text class="t" x="1032" y="970.5">Inbricusvirus inbricus</text></g>
<g id="n-peternellavirus-peternella"><rect class="n" x="1007" y="1112" width="20" height="21.6" rx="6" fill="#8b6a2b"/><text class="v" x="1017" y="1108">18</text><text class="t" x="1032" y="1128.5">Peternellavirus peternella</text></g>
<g id="n-gihfavirus-pelohabitans"><rect class="n" x="1007" y="1247" width="20" height="22.8" rx="6" fill="#e98b8e"/><text class="v" x="1017" y="1245.5">19</text><text class="t" x="1032" y="1263.5">Gihfavirus pelohabitans</text></g>
</g>
<g id="axis">
<path d="M30 1493 V1487 H1017 V1493 M171 1487 V1493 M342 1487 V1493 M513 1487 V1493 M676 1487 V1493 M853 1487 V1493" fill="none" stroke="#333" stroke-width="1.5"/>
<text class="ax" x="30" y="1506">K</text>
<text class="ax" x="171" y="1506">P</text>
<text class="ax" x="342" y="1506">C</text>
<text class="ax" x="513" y="1506">O</text>
<text class="ax" x="676" y="1506">F</text>
<text class="ax" x="853" y="1506">G</text>
<text class="ax" x="1017" y="1506">S</text>
</g>
</svg>
